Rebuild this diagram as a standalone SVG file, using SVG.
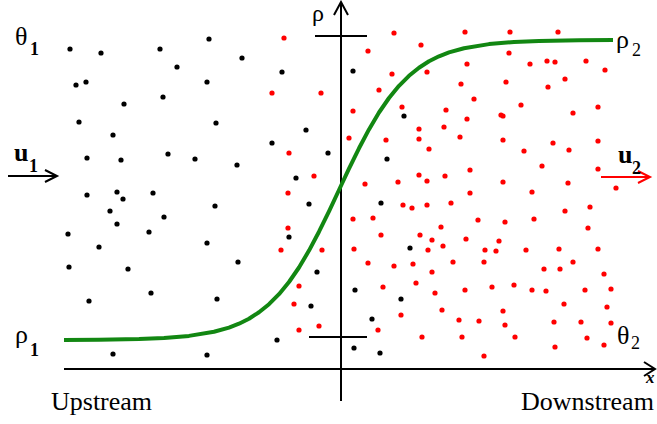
<svg xmlns="http://www.w3.org/2000/svg" width="657" height="424" viewBox="0 0 657 424">
<style>
.t{font-family:"Liberation Serif","DejaVu Serif","Times New Roman",serif;fill:#000}
.m{font-size:26px}
.s{font-size:18px}
.bd{font-weight:bold}
.ax{stroke:#000;stroke-width:2;fill:none}
.b{fill:#000}
.r{fill:#ff0000}
.curve{stroke:#128712;stroke-width:4;fill:none;stroke-linejoin:round;stroke-linecap:butt}
</style>
<rect width="657" height="424" fill="#fff"/>
<g id="particles-upstream">
<circle class="b" cx="70" cy="49" r="2.6"/><circle class="b" cx="101" cy="53" r="2.6"/><circle class="b" cx="160" cy="49" r="2.6"/><circle class="b" cx="209" cy="39" r="2.6"/><circle class="b" cx="177" cy="67" r="2.6"/><circle class="b" cx="76" cy="85" r="2.6"/><circle class="b" cx="86" cy="82" r="2.6"/><circle class="b" cx="207" cy="82" r="2.6"/><circle class="b" cx="124" cy="104" r="2.6"/><circle class="b" cx="163" cy="97" r="2.6"/><circle class="b" cx="79" cy="122" r="2.6"/><circle class="b" cx="216" cy="123" r="2.6"/><circle class="b" cx="113" cy="135" r="2.6"/><circle class="b" cx="87" cy="158" r="2.6"/><circle class="b" cx="121" cy="160" r="2.6"/><circle class="b" cx="168" cy="154" r="2.6"/><circle class="b" cx="195" cy="159" r="2.6"/><circle class="b" cx="87" cy="195" r="2.6"/><circle class="b" cx="117" cy="192" r="2.6"/><circle class="b" cx="123" cy="199" r="2.6"/><circle class="b" cx="153" cy="193" r="2.6"/><circle class="b" cx="215" cy="206" r="2.6"/><circle class="b" cx="110" cy="211" r="2.6"/>
<circle class="b" cx="117" cy="224" r="2.6"/><circle class="b" cx="164" cy="217" r="2.6"/><circle class="b" cx="68" cy="234" r="2.6"/><circle class="b" cx="149" cy="232" r="2.6"/><circle class="b" cx="99" cy="247" r="2.6"/><circle class="b" cx="207" cy="243" r="2.6"/><circle class="b" cx="69" cy="267" r="2.6"/><circle class="b" cx="128" cy="269" r="2.6"/><circle class="b" cx="151" cy="293" r="2.6"/><circle class="b" cx="89" cy="301" r="2.6"/><circle class="b" cx="217" cy="299" r="2.6"/><circle class="b" cx="113" cy="354" r="2.6"/><circle class="b" cx="207" cy="355" r="2.6"/>
<circle class="b" cx="242" cy="58" r="2.6"/><circle class="b" cx="282" cy="72" r="2.6"/><circle class="b" cx="306" cy="130" r="2.6"/><circle class="b" cx="272" cy="143" r="2.6"/><circle class="b" cx="328" cy="153" r="2.6"/><circle class="b" cx="237" cy="165" r="2.6"/><circle class="b" cx="296" cy="178" r="2.6"/><circle class="b" cx="309" cy="204" r="2.6"/><circle class="b" cx="289" cy="237" r="2.6"/><circle class="b" cx="238" cy="262" r="2.6"/><circle class="b" cx="317" cy="272" r="2.6"/><circle class="b" cx="311" cy="306" r="2.6"/><circle class="b" cx="277" cy="340" r="2.6"/>
<circle class="b" cx="353" cy="71" r="2.6"/><circle class="b" cx="404" cy="116" r="2.6"/><circle class="b" cx="387" cy="159" r="2.6"/><circle class="b" cx="381" cy="203" r="2.6"/><circle class="b" cx="410" cy="248" r="2.6"/><circle class="b" cx="355" cy="290" r="2.6"/><circle class="b" cx="401" cy="299" r="2.6"/><circle class="b" cx="372" cy="319" r="2.6"/><circle class="b" cx="354" cy="348" r="2.6"/><circle class="b" cx="380" cy="353" r="2.6"/>
</g>
<g id="particles-downstream">
<circle class="r" cx="284" cy="38" r="2.6"/><circle class="r" cx="272" cy="93" r="2.6"/><circle class="r" cx="321" cy="93" r="2.6"/><circle class="r" cx="289" cy="153" r="2.6"/><circle class="r" cx="314" cy="176" r="2.6"/><circle class="r" cx="288" cy="193" r="2.6"/><circle class="r" cx="288" cy="228" r="2.6"/><circle class="r" cx="281" cy="250" r="2.6"/><circle class="r" cx="322" cy="250" r="2.6"/><circle class="r" cx="299" cy="286" r="2.6"/><circle class="r" cx="294" cy="304" r="2.6"/><circle class="r" cx="299" cy="330" r="2.6"/><circle class="r" cx="319" cy="326" r="2.6"/>
<circle class="r" cx="394" cy="33" r="2.6"/><circle class="r" cx="368" cy="51" r="2.6"/><circle class="r" cx="421" cy="45" r="2.6"/><circle class="r" cx="392" cy="74" r="2.6"/><circle class="r" cx="427" cy="72" r="2.6"/><circle class="r" cx="379" cy="90" r="2.6"/><circle class="r" cx="353" cy="111" r="2.6"/><circle class="r" cx="402" cy="107" r="2.6"/><circle class="r" cx="419" cy="129" r="2.6"/><circle class="r" cx="419" cy="139" r="2.6"/><circle class="r" cx="349" cy="138" r="2.6"/><circle class="r" cx="386" cy="140" r="2.6"/><circle class="r" cx="429" cy="149" r="2.6"/><circle class="r" cx="419" cy="175" r="2.6"/><circle class="r" cx="427" cy="181" r="2.6"/><circle class="r" cx="398" cy="182" r="2.6"/><circle class="r" cx="365" cy="184" r="2.6"/><circle class="r" cx="403" cy="205" r="2.6"/><circle class="r" cx="412" cy="208" r="2.6"/><circle class="r" cx="427" cy="205" r="2.6"/>
<circle class="r" cx="465" cy="32" r="2.6"/><circle class="r" cx="510" cy="32" r="2.6"/><circle class="r" cx="558" cy="32" r="2.6"/><circle class="r" cx="509" cy="53" r="2.6"/><circle class="r" cx="467" cy="64" r="2.6"/><circle class="r" cx="530" cy="64" r="2.6"/><circle class="r" cx="547" cy="61" r="2.6"/><circle class="r" cx="555" cy="62" r="2.6"/><circle class="r" cx="586" cy="61" r="2.6"/><circle class="r" cx="605" cy="70" r="2.6"/><circle class="r" cx="461" cy="84" r="2.6"/><circle class="r" cx="506" cy="82" r="2.6"/><circle class="r" cx="548" cy="87" r="2.6"/><circle class="r" cx="565" cy="79" r="2.6"/><circle class="r" cx="474" cy="99" r="2.6"/><circle class="r" cx="446" cy="110" r="2.6"/><circle class="r" cx="467" cy="119" r="2.6"/><circle class="r" cx="501" cy="115" r="2.6"/><circle class="r" cx="503" cy="116" r="2.6"/><circle class="r" cx="521" cy="105" r="2.6"/><circle class="r" cx="573" cy="113" r="2.6"/><circle class="r" cx="598" cy="107" r="2.6"/><circle class="r" cx="444" cy="127" r="2.6"/><circle class="r" cx="460" cy="137" r="2.6"/><circle class="r" cx="503" cy="140" r="2.6"/><circle class="r" cx="524" cy="151" r="2.6"/><circle class="r" cx="553" cy="143" r="2.6"/><circle class="r" cx="569" cy="150" r="2.6"/><circle class="r" cx="598" cy="141" r="2.6"/><circle class="r" cx="445" cy="176" r="2.6"/><circle class="r" cx="470" cy="170" r="2.6"/><circle class="r" cx="503" cy="182" r="2.6"/><circle class="r" cx="542" cy="166" r="2.6"/><circle class="r" cx="568" cy="183" r="2.6"/><circle class="r" cx="598" cy="169" r="2.6"/><circle class="r" cx="616" cy="188" r="2.6"/><circle class="r" cx="470" cy="193" r="2.6"/><circle class="r" cx="532" cy="192" r="2.6"/><circle class="r" cx="451" cy="203" r="2.6"/><circle class="r" cx="565" cy="211" r="2.6"/><circle class="r" cx="590" cy="207" r="2.6"/>
<circle class="r" cx="353" cy="219" r="2.6"/><circle class="r" cx="373" cy="218" r="2.6"/><circle class="r" cx="381" cy="235" r="2.6"/><circle class="r" cx="420" cy="235" r="2.6"/><circle class="r" cx="432" cy="240" r="2.6"/><circle class="r" cx="428" cy="250" r="2.6"/><circle class="r" cx="354" cy="249" r="2.6"/><circle class="r" cx="368" cy="263" r="2.6"/><circle class="r" cx="394" cy="266" r="2.6"/><circle class="r" cx="413" cy="264" r="2.6"/><circle class="r" cx="432" cy="272" r="2.6"/><circle class="r" cx="416" cy="283" r="2.6"/><circle class="r" cx="383" cy="287" r="2.6"/><circle class="r" cx="435" cy="293" r="2.6"/><circle class="r" cx="401" cy="315" r="2.6"/><circle class="r" cx="378" cy="330" r="2.6"/><circle class="r" cx="422" cy="337" r="2.6"/>
<circle class="r" cx="441" cy="227" r="2.6"/><circle class="r" cx="478" cy="220" r="2.6"/><circle class="r" cx="505" cy="222" r="2.6"/><circle class="r" cx="534" cy="219" r="2.6"/><circle class="r" cx="588" cy="228" r="2.6"/><circle class="r" cx="443" cy="246" r="2.6"/><circle class="r" cx="466" cy="239" r="2.6"/><circle class="r" cx="485" cy="250" r="2.6"/><circle class="r" cx="499" cy="241" r="2.6"/><circle class="r" cx="496" cy="251" r="2.6"/><circle class="r" cx="526" cy="250" r="2.6"/><circle class="r" cx="559" cy="249" r="2.6"/><circle class="r" cx="598" cy="249" r="2.6"/><circle class="r" cx="453" cy="262" r="2.6"/><circle class="r" cx="484" cy="262" r="2.6"/><circle class="r" cx="544" cy="269" r="2.6"/><circle class="r" cx="560" cy="269" r="2.6"/><circle class="r" cx="573" cy="262" r="2.6"/><circle class="r" cx="604" cy="274" r="2.6"/><circle class="r" cx="465" cy="290" r="2.6"/><circle class="r" cx="492" cy="287" r="2.6"/><circle class="r" cx="514" cy="285" r="2.6"/><circle class="r" cx="532" cy="290" r="2.6"/><circle class="r" cx="546" cy="291" r="2.6"/><circle class="r" cx="585" cy="290" r="2.6"/><circle class="r" cx="611" cy="289" r="2.6"/><circle class="r" cx="442" cy="310" r="2.6"/><circle class="r" cx="564" cy="304" r="2.6"/><circle class="r" cx="503" cy="311" r="2.6"/><circle class="r" cx="607" cy="307" r="2.6"/><circle class="r" cx="459" cy="320" r="2.6"/><circle class="r" cx="479" cy="321" r="2.6"/><circle class="r" cx="505" cy="325" r="2.6"/><circle class="r" cx="554" cy="322" r="2.6"/><circle class="r" cx="581" cy="322" r="2.6"/><circle class="r" cx="611" cy="323" r="2.6"/><circle class="r" cx="462" cy="337" r="2.6"/><circle class="r" cx="515" cy="337" r="2.6"/><circle class="r" cx="555" cy="347" r="2.6"/><circle class="r" cx="587" cy="338" r="2.6"/><circle class="r" cx="604" cy="345" r="2.6"/><circle class="r" cx="484" cy="356" r="2.6"/>
</g>
<g id="axes">
<line class="ax" x1="64" y1="369" x2="655" y2="369"/>
<polyline class="ax" points="644,362 655,369 644,376"/>
<line class="ax" x1="341" y1="401" x2="341" y2="2"/>
<polyline class="ax" points="334,15 341,2 348,15"/>
<line class="ax" x1="315" y1="36" x2="367" y2="36"/>
<line class="ax" x1="309" y1="337" x2="367" y2="337"/>
</g>
<g id="density-curve">
<polyline class="curve" points="64,340 99,339.7 139,339 164,338 189,335.9 214,331.8 229,327.6 239,323.7 249,318.7 259,312.3 269,304.2 279,294.2 289,282 299,267.5 309,250.6 319,231.7 329,211.3 339,190 349,168.7 359,148.3 369,129.4 379,112.5 389,98 399,85.8 409,75.8 419,67.7 429,61.3 439,56.3 449,52.4 464,48.2 489,44.1 514,42 539,41 579,40.3 613,40.1"/>
</g>
<g id="connectors">
<line x1="8" y1="176" x2="56" y2="176" stroke="#000" stroke-width="2"/>
<polyline points="45,170 57,176 45,182" fill="none" stroke="#000" stroke-width="2"/>
<line x1="601" y1="177" x2="649" y2="177" stroke="#ff0000" stroke-width="2"/>
<polyline points="638,171 650,177 638,183" fill="none" stroke="#ff0000" stroke-width="2"/>
</g>
<g id="labels">
<text class="t m" x="15" y="45">θ</text><text class="t s bd" x="30" y="55">1</text>
<text class="t m bd" x="14" y="161">u</text><text class="t s bd" x="29" y="172">1</text>
<text class="t m" x="15" y="343">ρ</text><text class="t s bd" x="30" y="356">1</text>
<text class="t" x="312" y="21" font-size="24">ρ</text>
<text class="t m" x="616" y="48">ρ</text><text class="t s" x="632" y="56">2</text>
<text class="t m bd" x="618" y="163">u</text><text class="t s bd" x="632" y="174">2</text>
<text class="t m" x="617" y="344">θ</text><text class="t s" x="631" y="349">2</text>
<text class="t bd" x="646" y="383" font-size="17" font-style="italic">x</text>
<text class="t m" x="51" y="410">Upstream</text>
<text class="t m" x="521" y="410">Downstream</text>
</g>
</svg>
